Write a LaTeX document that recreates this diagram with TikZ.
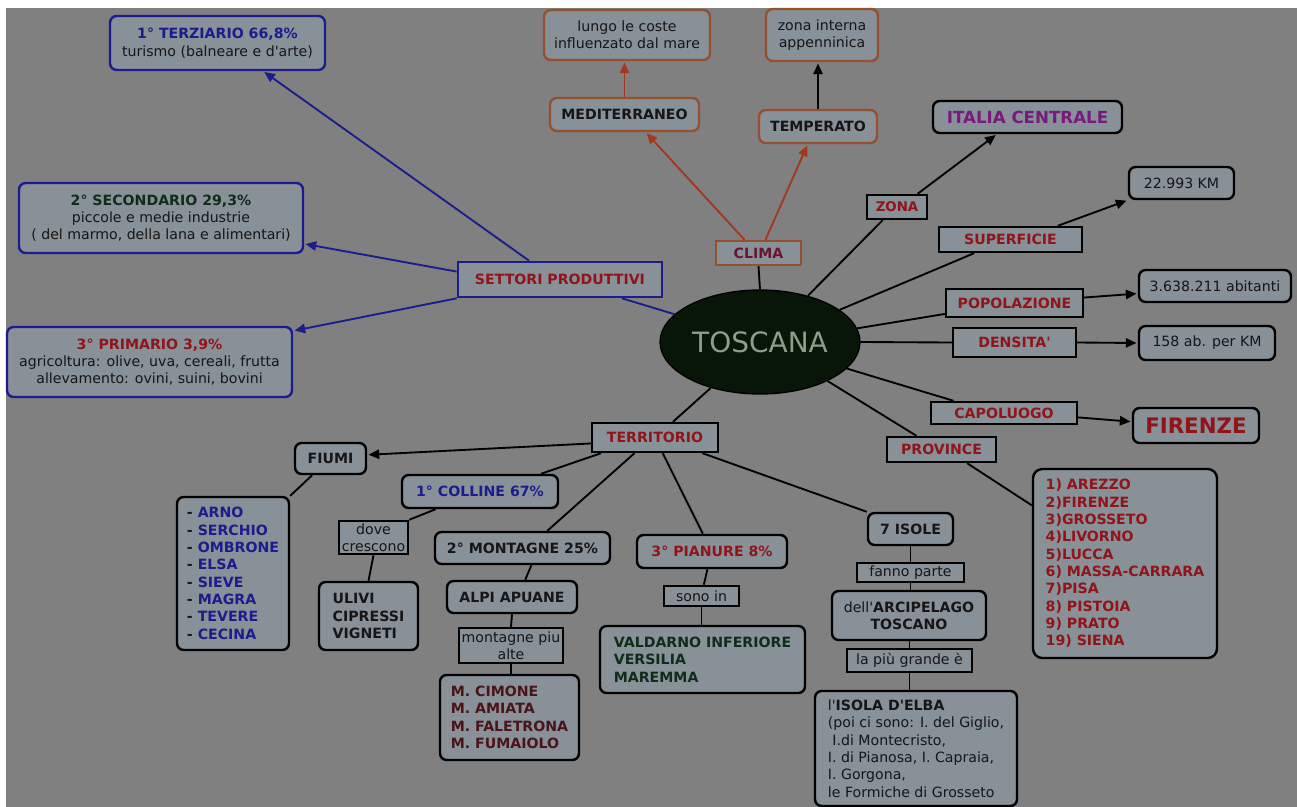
\documentclass[tikz,border=0pt]{standalone}
\usepackage{fontspec}
\setmainfont{DejaVu Sans}
\usetikzlibrary{calc,arrows.meta,shapes.geometric}
\definecolor{bgc}{RGB}{128,128,128}
\definecolor{boxfill}{RGB}{136,144,152}
\definecolor{ctext}{RGB}{22,22,22}
\definecolor{cred}{RGB}{145,20,25}
\definecolor{cblue}{RGB}{28,28,140}
\definecolor{cdgreen}{RGB}{15,45,25}
\definecolor{cmag}{RGB}{120,25,125}
\definecolor{cbrown}{RGB}{75,20,25}
\definecolor{corange}{RGB}{150,80,45}
\definecolor{carrow}{RGB}{165,55,30}
\definecolor{cclima}{RGB}{105,20,50}
\definecolor{ellfill}{RGB}{8,22,8}
\definecolor{elltext}{RGB}{140,158,140}
\newcommand\apo{\textquotesingle}
\tikzset{
  bx/.style args={#1/#2/#3/#4}{at={({(#1+#3)/2},{(#2+#4)/2})},
    minimum width=(#3-#1)*0.75pt, minimum height=(#4-#2)*0.75pt},
  basebox/.style={inner sep=0pt, fill=boxfill, line width=1.8pt, text=ctext,
    font=\fontsize{10.6pt}{13pt}\selectfont, align=center},
  rbox/.style={basebox, draw=black, rounded corners=5pt},
  sbox/.style={basebox, draw=black},
  bbox/.style={basebox, draw=cblue, rounded corners=5pt},
  obox/.style={basebox, draw=corange, rounded corners=5pt},
  lbl/.style={font=\fontsize{10.6pt}{13pt}\selectfont\bfseries},
  ln/.style={line width=1.4pt, draw=black},
  arr/.style={ln, -{Triangle[length=8pt,width=7pt]}, shorten >=1pt},
  arrB/.style={arr, draw=cblue, fill=cblue},
  arrO/.style={arr, draw=carrow, fill=carrow}}
\begin{document}
\begin{tikzpicture}[x=0.75pt,y=-0.75pt]
\useasboundingbox (0,0) rectangle (1297,807);
\fill[white] (0,0) rectangle (1297,807);
\fill[bgc] (6,8) rectangle (1297,807);

% ---- settori produttivi
\node[bbox, bx=110/16/325/70] (terz) {{\bfseries\color{cblue}1° TERZIARIO 66,8\%}\\turismo (balneare e d\apo arte)};
\node[bbox, bx=19/183/303/253] (sec) {{\bfseries\color{cdgreen}2° SECONDARIO 29,3\%}\\piccole e medie industrie\\( del marmo, della lana e alimentari)};
\node[bbox, bx=7/327/292/397] (prim) {{\bfseries\color{cred}3° PRIMARIO 3,9\%}\\agricoltura: olive, uva, cereali, frutta\\allevamento: ovini, suini, bovini};
\node[basebox, draw=cblue, line width=2pt, bx=458/262/662/297, lbl, text=cred] (sett) {SETTORI PRODUTTIVI};

% ---- clima
\node[obox, bx=544/10/710/60] (lungo) {lungo le coste\\influenzato dal mare};
\node[obox, bx=550/98/699/131, lbl] (medi) {MEDITERRANEO};
\node[obox, bx=766/9/878/61] (zint) {zona interna\\appenninica};
\node[obox, bx=759/110/877/143, lbl] (temp) {TEMPERATO};
\node[basebox, draw=corange, bx=716/241/801/265, lbl, text=cclima] (clima) {CLIMA};

% ---- centre
\node[ellipse, fill=ellfill, draw=black, line width=1pt, minimum width=200*0.75pt, minimum height=104*0.75pt, inner sep=0pt,
  text=elltext, font=\fontsize{21pt}{24pt}\selectfont] (tosc) at (760,342) {TOSCANA};

% ---- right side
\node[rbox, bx=933/101/1122/133, font=\fontsize{12.5pt}{14pt}\selectfont\bfseries, text=cmag] (ital) {ITALIA CENTRALE};
\node[sbox, bx=867/195/927/219, font=\fontsize{10pt}{12pt}\selectfont\bfseries, text=cred] (zona) {ZONA};
\node[sbox, bx=939/227/1082/252, lbl, text=cred] (sup) {SUPERFICIE};
\node[rbox, bx=1129/167/1234/199] (km) {22.993 KM};
\node[sbox, bx=946/289/1083/317, lbl, text=cred] (pop) {POPOLAZIONE};
\node[rbox, bx=1139/270/1291/302] (ab) {3.638.211 abitanti};
\node[sbox, bx=953/328/1076/357, lbl, text=cred] (dens) {DENSITA\apo};
\node[rbox, bx=1139/326/1275/360] (kmq) {158 ab. per KM};
\node[sbox, bx=931/402/1077/424, lbl, text=cred] (cap) {CAPOLUOGO};
\node[rbox, bx=1133/408/1259/443, font=\fontsize{16pt}{18pt}\selectfont\bfseries, text=cred] (fir) {FIRENZE};
\node[sbox, bx=887/437/996/462, lbl, text=cred] (prov) {PROVINCE};
\node[rbox, rounded corners=7pt, bx=1033/469/1217/658, align=left, lbl, text=cred] (provl)
  {1) AREZZO\\2)FIRENZE\\3)GROSSETO\\4)LIVORNO\\5)LUCCA\\6) MASSA-CARRARA\\7)PISA\\8) PISTOIA\\9) PRATO\\19) SIENA};

% ---- territorio
\node[sbox, bx=592/423/718/452, lbl, text=cred] (terr) {TERRITORIO};
\node[rbox, bx=295/443/366/474, lbl] (fiumi) {FIUMI};
\node[rbox, bx=177/497/289/650, align=left, lbl] (fiumil)
  {- {\color{cblue}ARNO}\\- {\color{cblue}SERCHIO}\\- {\color{cblue}OMBRONE}\\- {\color{cblue}ELSA}\\- {\color{cblue}SIEVE}\\- {\color{cblue}MAGRA}\\- {\color{cblue}TEVERE}\\- {\color{cblue}CECINA}};
\node[rbox, bx=402/475/558/508, lbl, text=cblue] (coll) {1° COLLINE 67\%};
\node[sbox, bx=339/521/408/554] (dove) {dove\\crescono};
\node[rbox, bx=319/582/418/650, align=left, lbl] (ulivi) {ULIVI\\CIPRESSI\\VIGNETI};
\node[rbox, bx=435/532/610/564, lbl] (mont) {2° MONTAGNE 25\%};
\node[rbox, bx=447/581/577/613, lbl] (alpi) {ALPI APUANE};
\node[sbox, bx=459/628/563/663] (mpa) {montagne piu\\alte};
\node[rbox, bx=440/675/579/760, align=left, lbl, text=cbrown] (cim)
  {M. CIMONE\\M. AMIATA\\M. FALETRONA\\M. FUMAIOLO};
\node[rbox, bx=637/535/787/568, lbl, text=cred] (pian) {3° PIANURE 8\%};
\node[sbox, bx=664/586/739/606] (sono) {sono in};
\node[rbox, bx=600/626/805/693, align=left, lbl, text=cdgreen] (vald)
  {VALDARNO INFERIORE\\VERSILIA\\MAREMMA};
\node[rbox, bx=868/513/953/545, lbl] (isole) {7 ISOLE};
\node[sbox, bx=857/563/964/582] (fanno) {fanno parte};
\node[rbox, bx=832/591/986/640] (arc) {dell\apo\textbf{ARCIPELAGO}\\\textbf{TOSCANO}};
\node[sbox, bx=847/649/972/672] (lpg) {la più grande è};
\node[rbox, bx=815/691/1017/806, align=left] (elba)
  {l\apo\textbf{ISOLA D\apo ELBA}\\(poi ci sono: I. del Giglio,\\\ I.di Montecristo,\\I. di Pianosa, I. Capraia,\\I. Gorgona,\\le Formiche di Grosseto};

% ---- connectors: settori
\draw[arrB] ($(sett.north west)!0.35!(sett.north east)$) -- ($(terz.south west)!0.71!(terz.south east)$);
\draw[arrB] ($(sett.north west)!0.29!(sett.south west)$) -- ($(sec.north east)!0.857!(sec.south east)$);
\draw[arrB] (sett.south west) -- ($(prim.north east)!0.07!(prim.south east)$);
\draw[ln, draw=cblue] ($(sett.south west)!0.8!(sett.south east)$) -- (tosc.162);

% clima
\draw[arrO] ($(clima.north west)!0.34!(clima.north east)$) -- ($(medi.south west)!0.64!(medi.south east)$);
\draw[arrO] ($(clima.north west)!0.58!(clima.north east)$) -- ($(temp.south west)!0.415!(temp.south east)$);
\draw[ln] (clima.south) -- (tosc.north);
\draw[arrO] (medi.north) -- (medi.north |- lungo.south);
\draw[arr] (temp.north) -- (temp.north |- zint.south);

% right
\draw[ln] (tosc.44) -- ($(zona.south west)!0.27!(zona.south east)$);
\draw[arr] ($(zona.north west)!0.83!(zona.north east)$) -- ($(ital.south west)!0.34!(ital.south east)$);
\draw[ln] (tosc.22) -- ($(sup.south west)!0.25!(sup.south east)$);
\draw[arr] ($(sup.north west)!0.825!(sup.north east)$) -- (km.south west);
\draw[ln] (tosc.8) -- ($(pop.north west)!0.86!(pop.south west)$);
\draw[arr] ($(pop.north east)!0.32!(pop.south east)$) -- ($(ab.north west)!0.72!(ab.south west)$);
\draw[ln] (tosc.east) -- (dens.west);
\draw[arr] (dens.east) -- (kmq.west);
\draw[ln] (tosc.343) -- ($(cap.north west)!0.16!(cap.north east)$);
\draw[arr] ($(cap.north east)!0.68!(cap.south east)$) -- ($(fir.north west)!0.4!(fir.south west)$);
\draw[ln] (tosc.330) -- ($(prov.north west)!0.275!(prov.north east)$);
\draw[ln] ($(prov.south west)!0.73!(prov.south east)$) -- ($(provl.north west)!0.196!(provl.south west)$);

% territorio
\draw[ln] (tosc.223) -- ($(terr.north west)!0.64!(terr.north east)$);
\draw[arr] ($(terr.north west)!0.69!(terr.south west)$) -- ($(fiumi.north east)!0.39!(fiumi.south east)$);
\draw[ln] ($(terr.south west)!0.08!(terr.south east)$) -- ($(coll.north west)!0.885!(coll.north east)$);
\draw[ln] ($(terr.south west)!0.34!(terr.south east)$) -- ($(mont.north west)!0.64!(mont.north east)$);
\draw[ln] ($(terr.south west)!0.56!(terr.south east)$) -- ($(pian.north west)!0.44!(pian.north east)$);
\draw[ln] ($(terr.south west)!0.87!(terr.south east)$) -- (isole.north west);
\draw[ln] ($(fiumi.south west)!0.25!(fiumi.south east)$) -- (fiumil.north east);
\draw[ln] ($(coll.south west)!0.22!(coll.south east)$) -- (dove.north east);
\draw[ln] (dove.south) -- (ulivi.north);
\draw[ln] ($(mont.south west)!0.55!(mont.south east)$) -- ($(alpi.north west)!0.6!(alpi.north east)$);
\draw[ln] (alpi.south) -- (mpa.north);
\draw[ln] (mpa.south) -- (mpa.south |- cim.north);
\draw[ln] ($(pian.south west)!0.47!(pian.south east)$) -- ($(sono.north west)!0.53!(sono.north east)$);
\draw[ln] (sono.south) -- (sono.south |- vald.north);
\draw[ln] (isole.south) -- (fanno.north);
\draw[ln] (fanno.south) -- (fanno.south |- arc.north);
\draw[ln] (lpg.north |- arc.south) -- (lpg.north);
\draw[ln] (lpg.south) -- (lpg.south |- elba.north);
\end{tikzpicture}
\end{document}
